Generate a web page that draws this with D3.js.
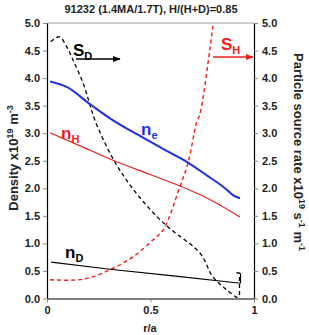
<!DOCTYPE html>
<html>
  <head>
    <script src="https://d3js.org/d3.v7.min.js"></script>
    <style>
    body { margin: 0; background: #fff; }
    text { font-family: "Liberation Sans", Arial, sans-serif; }
    .tick text { font-size: 11px; font-weight: bold; fill: #222; }
    </style>
  </head>
  <body>
    <script>

    // r/a and values
    var neR  = [0.015, 0.095, 0.21, 0.304, 0.449, 0.578, 0.675, 0.77, 0.867, 0.90, 0.932];
    var neV  = [3.94, 3.84, 3.52, 3.27, 2.95, 2.68, 2.48, 2.24, 1.98, 1.87, 1.82];

    var nhR  = [0.015, 0.16, 0.304, 0.498, 0.643, 0.80, 0.932];
    var nhV  = [3.01, 2.77, 2.53, 2.25, 2.04, 1.77, 1.48];

    var ndR  = [0.02, 0.304, 0.61, 0.924, 0.935, 0.935];
    var ndV  = [0.66, 0.53, 0.41, 0.28, 0.28, 0.46];

    // S_D: smooth part, then the step at the edge
    var sdR  = [0.018, 0.06, 0.095, 0.127, 0.175, 0.204, 0.232, 0.32, 0.417, 0.53, 0.60, 0.74, 0.80, 0.868, 0.916];
    var sdV  = [4.66, 4.75, 4.57, 4.32, 3.90, 3.56, 3.23, 2.53, 1.98, 1.49, 1.25, 0.82, 0.40, 0.155, 0.02];
    var sdEdgeR = [0.916, 0.93, 0.93, 0.915];
    var sdEdgeV = [0.02, 0.06, 0.46, 0.47];

    var shR  = [0.015, 0.175, 0.304, 0.417, 0.514, 0.562, 0.643, 0.682, 0.723, 0.739, 0.787, 0.803];
    var shV  = [0.34, 0.35, 0.52, 0.76, 1.07, 1.25, 2.04, 2.47, 3.20, 3.35, 4.53, 5.0];

    var yTicks = [0, 0.5, 1, 1.5, 2, 2.5, 3, 3.5, 4, 4.5, 5];
    var xTicks = [0, 0.5, 1];

    var w = 309, h = 335;
    var x = d3.scaleLinear().domain([0, 1]).range([47, 254]);
    var y = d3.scaleLinear().domain([0, 5]).range([298.5, 23]);
    var y2 = d3.scaleLinear().domain([0, 5]).range([298.5, 23]);

    var svg = d3.select("body").append("svg")
      .attr("width", w).attr("height", h);

    var defs = svg.append("defs");
    function marker(id, col) {
      defs.append("marker").attr("id", id)
        .attr("viewBox", "0 0 10 10").attr("refX", 9).attr("refY", 5)
        .attr("markerWidth", 6).attr("markerHeight", 6).attr("orient", "auto")
        .append("path").attr("d", "M0,1L10,5L0,9z").attr("fill", col);
    }
    marker("arrK", "#000");
    marker("arrR", "#ee1c1c");

    // title
    svg.append("text").attr("x", 151).attr("y", 13).attr("text-anchor", "middle")
      .style("font-size", "11px").style("font-weight", "bold").attr("fill", "#222")
      .text("91232 (1.4MA/1.7T), H/(H+D)=0.85");

    // frame top
    svg.append("line").attr("x1", x(0)).attr("x2", x(1)).attr("y1", y(5)).attr("y2", y(5))
      .attr("stroke", "#999").attr("stroke-width", 1);

    // axes
    function styleAxis(g) {
      g.selectAll(".domain").attr("stroke", "#000").attr("stroke-width", 1.2);
      g.selectAll(".tick line").attr("stroke", "#888");
    }
    svg.append("g").attr("transform", "translate(" + x(0) + ",0)")
      .call(d3.axisLeft(y).tickValues(yTicks).tickFormat(d3.format(".1f")).tickSize(4).tickSizeOuter(0).tickPadding(3))
      .call(styleAxis);
    svg.append("g").attr("transform", "translate(" + x(1) + ",0)")
      .call(d3.axisRight(y2).tickValues(yTicks).tickFormat(d3.format(".1f")).tickSize(4).tickSizeOuter(0).tickPadding(4))
      .call(styleAxis);
    svg.append("g").attr("transform", "translate(0," + y(0) + ")")
      .call(d3.axisBottom(x).tickValues(xTicks).tickFormat(function(d) { return d; }).tickSize(4).tickSizeOuter(0).tickPadding(4))
      .call(styleAxis);
    svg.selectAll(".tick text").attr("font-family", null).attr("font-size", null);

    // axis titles
    svg.append("text").attr("x", 150).attr("y", 332).attr("text-anchor", "middle")
      .style("font-size", "11px").style("font-weight", "bold").attr("fill", "#222").text("r/a");

    var lt = svg.append("text").attr("transform", "translate(18,158) rotate(-90)")
      .attr("text-anchor", "middle").style("font-size", "13px").style("font-weight", "bold").attr("fill", "#222");
    lt.append("tspan").text("Density x10");
    lt.append("tspan").attr("dy", -5).style("font-size", "9px").text("19");
    lt.append("tspan").attr("dy", 5).text(" m");
    lt.append("tspan").attr("dy", -5).style("font-size", "9px").text("-3");

    var rt = svg.append("text").attr("transform", "translate(294,152) rotate(90)")
      .attr("text-anchor", "middle").style("font-size", "13px").style("font-weight", "bold").attr("fill", "#222");
    rt.append("tspan").text("Particle source rate x10");
    rt.append("tspan").attr("dy", -5).style("font-size", "9px").text("19");
    rt.append("tspan").attr("dy", 5).text(" s");
    rt.append("tspan").attr("dy", -5).style("font-size", "9px").text("-1");
    rt.append("tspan").attr("dy", 5).text(" m");
    rt.append("tspan").attr("dy", -5).style("font-size", "9px").text("-1");

    // curves
    function zip(r, v) { return r.map(function(d, i) { return [d, v[i]]; }); }
    var line = d3.line().x(function(d) { return x(d[0]); }).y(function(d) { return y(d[1]); });
    var smooth = d3.line().curve(d3.curveMonotoneX)
      .x(function(d) { return x(d[0]); }).y(function(d) { return y(d[1]); });
    var curvy = d3.line().curve(d3.curveCatmullRom.alpha(0.5))
      .x(function(d) { return x(d[0]); }).y(function(d) { return y(d[1]); });

    svg.append("path").attr("d", curvy(zip(sdR, sdV)) + line(zip(sdEdgeR, sdEdgeV)).replace(/^M/, "L"))
      .attr("fill", "none")
      .attr("stroke", "#000").attr("stroke-width", 1.3).attr("stroke-dasharray", "4,3");
    svg.append("path").attr("d", curvy(zip(shR, shV))).attr("fill", "none")
      .attr("stroke", "#ee1c1c").attr("stroke-width", 1.4).attr("stroke-dasharray", "4,3");
    svg.append("path").attr("d", line(zip(ndR, ndV))).attr("fill", "none")
      .attr("stroke", "#000").attr("stroke-width", 1.1);
    svg.append("path").attr("d", smooth(zip(nhR, nhV))).attr("fill", "none")
      .attr("stroke", "#ee1c1c").attr("stroke-width", 1.1);
    svg.append("path").attr("d", smooth(zip(neR, neV))).attr("fill", "none")
      .attr("stroke", "#1f2de8").attr("stroke-width", 2);

    // arrows
    svg.append("line").attr("x1", 76).attr("x2", 120).attr("y1", 59).attr("y2", 59)
      .attr("stroke", "#000").attr("stroke-width", 1.3).attr("marker-end", "url(#arrK)");
    svg.append("line").attr("x1", 213).attr("x2", 253).attr("y1", 57).attr("y2", 57)
      .attr("stroke", "#ee1c1c").attr("stroke-width", 1.3).attr("marker-end", "url(#arrR)");

    // curve labels
    function label(px, py, main, sub, col) {
      var t = svg.append("text").attr("x", px).attr("y", py).attr("fill", col)
        .style("font-size", "17px").style("font-weight", "bold");
      t.append("tspan").text(main);
      t.append("tspan").attr("dy", 4).style("font-size", "11px").text(sub);
    }
    label(73, 56, "S", "D", "#000");
    label(221, 50, "S", "H", "#ee1c1c");
    label(141, 135, "n", "e", "#1f2de8");
    label(61, 139, "n", "H", "#ee1c1c");
    label(65, 258, "n", "D", "#000");

    </script>
  </body>
</html>
